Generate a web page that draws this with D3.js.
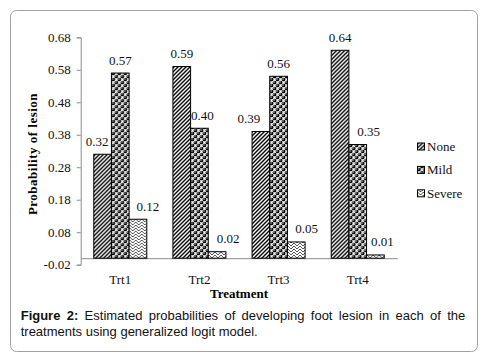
<!DOCTYPE html>
<html>
<head>
<meta charset="utf-8">
<script src="https://cdn.jsdelivr.net/npm/d3@7/dist/d3.min.js"></script>
<style>
  html, body { margin: 0; padding: 0; background: #fff; }
  svg { display: block; }
</style>
</head>
<body>
<svg id="chart" width="496" height="360"></svg>
<script>
// ---- data ----
const categories = ["Trt1", "Trt2", "Trt3", "Trt4"];
const seriesNames = ["None", "Mild", "Severe"];
const noneValues = [0.32, 0.59, 0.39, 0.64];
const mildValues = [0.57, 0.40, 0.56, 0.35];
const severeValues = [0.12, 0.02, 0.05, 0.01];
const yTickValues = [-0.02, 0.08, 0.18, 0.28, 0.38, 0.48, 0.58, 0.68];
const xTitle = "Treatment";
const yTitle = "Probability of lesion";
const captionBold = "Figure 2:";
const captionLine1 = "Estimated probabilities of developing foot lesion in each of the";
const captionLine2 = "treatments using generalized logit model.";

// label nudges (layout only, px) as placed in the original
const labelNudge = {
  None: [-5.5, 0, -12, 0],
  Mild: [0, 3, 0, 11],
  Severe: [10, 11, 10.5, 7]
};

const seriesValues = { None: noneValues, Mild: mildValues, Severe: severeValues };

const svg = d3.select("#chart");
const serif = "'Liberation Serif', 'Times New Roman', serif";
const sans = "'Liberation Sans', Arial, sans-serif";

// frame
svg.append("rect")
  .attr("x", 10.5).attr("y", 10.5).attr("width", 467).attr("height", 341)
  .attr("rx", 6).attr("fill", "#fff").attr("stroke", "#a3a3a3").attr("stroke-width", 1);

// patterns
const defs = svg.append("defs");
const pNone = defs.append("pattern").attr("id", "pNone")
  .attr("patternUnits", "userSpaceOnUse").attr("width", 4).attr("height", 4);
pNone.append("rect").attr("width", 4).attr("height", 4).attr("fill", "#fff");
pNone.append("path").attr("d", "M-1,1 L1,-1 M0,4 L4,0 M3,5 L5,3")
  .attr("stroke", "#000").attr("stroke-width", 1.4);

const pMild = defs.append("pattern").attr("id", "pMild")
  .attr("patternUnits", "userSpaceOnUse").attr("width", 6).attr("height", 6);
pMild.append("rect").attr("width", 6).attr("height", 6).attr("fill", "#fff");
[[1.5, 1.5], [4.5, 4.5], [-1.5, -1.5], [4.5, -1.5], [-1.5, 4.5], [7.5, 1.5], [1.5, 7.5], [7.5, 7.5]].forEach(([cx, cy]) => {
  pMild.append("circle").attr("cx", cx).attr("cy", cy).attr("r", 1.85).attr("fill", "#000");
  pMild.append("circle").attr("cx", cx - 0.5).attr("cy", cy - 0.5).attr("r", 0.7).attr("fill", "#fff");
});

const pSevere = defs.append("pattern").attr("id", "pSevere")
  .attr("patternUnits", "userSpaceOnUse").attr("width", 6).attr("height", 6);
pSevere.append("rect").attr("width", 6).attr("height", 6).attr("fill", "#fff");
pSevere.append("path").attr("d", "M0,0 L3,3 L6,0 M0,3 L3,6 L6,3")
  .attr("stroke", "#555").attr("stroke-width", 1).attr("fill", "none");

const fills = { None: "url(#pNone)", Mild: "url(#pMild)", Severe: "url(#pSevere)" };

// scales
const plotLeft = 80.7, plotRight = 397.3;
const x0 = d3.scaleBand().domain(categories).range([plotLeft, plotRight])
  .paddingInner(0.33).paddingOuter(0.165);
const x1 = d3.scaleBand().domain(seriesNames).range([0, x0.bandwidth()]);
const y = d3.scaleLinear().domain([-0.02, 0.68]).range([264.7, 37.3]);

// y axis
const yAxis = d3.axisLeft(y).tickValues(yTickValues)
  .tickFormat(d => d.toFixed(2)).tickSize(4).tickPadding(6);
const yg = svg.append("g").attr("transform", `translate(${plotLeft},0)`).call(yAxis);
yg.select(".domain").attr("stroke", "#8c8c8c");
yg.selectAll(".tick line").attr("stroke", "#8c8c8c");
yg.selectAll(".tick text").attr("font-family", serif).attr("font-size", 13).attr("fill", "#111");

// x axis (baseline at 0, no ticks)
const xAxis = d3.axisBottom(x0).tickSize(0).tickPadding(17);
const xg = svg.append("g").attr("transform", `translate(0,${y(0)})`).call(xAxis);
xg.select(".domain").attr("stroke", "#8c8c8c");
xg.selectAll(".tick text").attr("font-family", serif).attr("font-size", 13).attr("fill", "#111");

// bars
const groups = svg.append("g").selectAll("g").data(categories).join("g")
  .attr("transform", d => `translate(${x0(d)},0)`);
groups.selectAll("rect").data((c, i) => seriesNames.map(s => ({ s, v: seriesValues[s][i], i })))
  .join("rect")
  .attr("x", d => x1(d.s))
  .attr("y", d => y(d.v))
  .attr("width", x1.bandwidth())
  .attr("height", d => y(0) - y(d.v))
  .attr("fill", d => fills[d.s])
  .attr("stroke", "#000").attr("stroke-width", 1);

// labels
groups.selectAll("text.lbl").data((c, i) => seriesNames.map(s => ({ s, v: seriesValues[s][i], i })))
  .join("text").attr("class", "lbl")
  .attr("x", d => x1(d.s) + x1.bandwidth() / 2 + labelNudge[d.s][d.i])
  .attr("y", d => y(d.v) - 8.5)
  .attr("text-anchor", "middle")
  .attr("font-family", serif).attr("font-size", 13).attr("fill", "#111")
  .text(d => d.v.toFixed(2));

// axis titles
svg.append("text").attr("x", (plotLeft + plotRight) / 2).attr("y", 298)
  .attr("text-anchor", "middle").attr("font-family", serif).attr("font-size", 13)
  .attr("font-weight", "bold").attr("fill", "#000").text(xTitle);
svg.append("text").attr("transform", "translate(37,154) rotate(-90)")
  .attr("text-anchor", "middle").attr("font-family", serif).attr("font-size", 13)
  .attr("font-weight", "bold").attr("letter-spacing", 0.5).attr("fill", "#000").text(yTitle);

// legend
const legend = svg.append("g").attr("transform", "translate(417.5,0)");
seriesNames.forEach((s, i) => {
  const cy = 146.5 + i * 23.4;
  legend.append("rect").attr("x", 0).attr("y", cy - 3.5).attr("width", 7).attr("height", 7)
    .attr("fill", fills[s]).attr("stroke", "#000").attr("stroke-width", 1);
  legend.append("text").attr("x", 9.5).attr("y", cy + 4.3)
    .attr("font-family", serif).attr("font-size", 13).attr("fill", "#111").text(s);
});

// caption (justified first line)
const capLeft = 20.7, capRight = 465.3;
const cap1 = svg.append("text").attr("x", capLeft).attr("y", 320)
  .attr("font-family", sans).attr("font-size", 13).attr("fill", "#111");
cap1.append("tspan").attr("font-weight", "bold").text(captionBold);
cap1.append("tspan").text(" " + captionLine1);
const natural = cap1.node().getComputedTextLength();
const spaces = (captionBold + " " + captionLine1).split(" ").length - 1;
cap1.attr("word-spacing", (capRight - capLeft - natural) / spaces);
svg.append("text").attr("x", capLeft).attr("y", 336)
  .attr("font-family", sans).attr("font-size", 13).attr("fill", "#111").text(captionLine2);
</script>
</body>
</html>
